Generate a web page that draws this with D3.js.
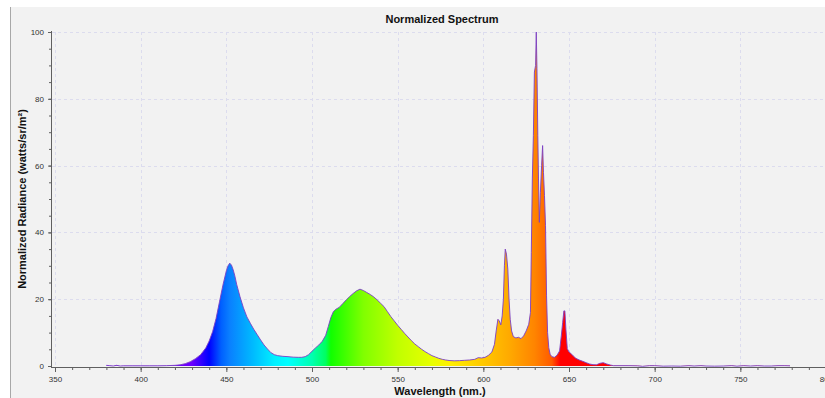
<!DOCTYPE html>
<html>
<head>
<meta charset="utf-8">
<script src="https://cdn.jsdelivr.net/npm/d3@7"></script>
<style>
  body { margin: 0; background: #fff; }
  svg { display: block; }
  text { font-family: "Liberation Sans", Arial, sans-serif; }
</style>
</head>
<body>
<svg width="825" height="398"></svg>
<script>
// wavelength samples (nm) and normalized radiance
var wavelengths = [
  380, 382, 384, 386, 388, 390, 395, 400, 405, 410, 415, 420, 423, 426, 429, 432, 435, 438,
  440, 442, 444, 446, 448, 450, 451, 452, 453, 454, 455, 456, 458, 460, 462, 464, 466, 468,
  470, 472, 474, 476, 478, 480, 483, 486, 489, 492, 494, 496, 498, 500, 502, 504, 506, 508,
  509.5, 511, 512.5, 514, 516, 518, 520, 522, 524, 526, 528, 530, 532, 534, 536, 538, 540,
  542, 544, 546, 548, 550, 552, 554, 556, 558, 560, 562, 564, 566, 568, 570, 572, 574, 576,
  578, 580, 583, 586, 589, 592, 595, 597, 599, 601, 603, 605, 606.5, 607.5, 608.5, 609.3,
  610.2, 611, 611.7, 612.3, 612.8, 613.5, 614.3, 615, 615.7, 616.5, 617.5, 619, 620.5, 622,
  623.5, 625, 626.5, 627.5, 628, 628.6, 629.2, 629.8, 630.5, 630.9, 631.3, 631.8, 632.2,
  632.7, 633.3, 634, 634.6, 635.1, 635.7, 636.3, 636.9, 637.5, 638.2, 639, 640, 641.5, 643,
  644.5, 645.5, 646.3, 647, 647.6, 648.2, 649, 650, 651, 652.5, 654, 656, 658, 660, 662, 664,
  666, 668, 670, 672, 674, 676, 678, 685, 690, 693, 697, 700, 705, 710, 715, 720, 723, 727,
  730, 735, 740, 745, 748, 752, 756, 760, 764, 768, 772, 776, 779
]
var radiance = [
  0.2, 0.1, 0.0, 0.2, 0.0, 0.05, 0.05, 0.05, 0.05, 0.05, 0.1, 0.2, 0.35, 0.7, 1.3, 2.2, 3.4, 5.4,
  7.5, 10.3, 14.2, 19.2, 24.2, 28.5, 30.0, 30.8, 30.2, 28.8, 26.9, 24.5, 20.7, 17.4, 14.7, 12.8, 11.0, 9.4,
  7.8, 6.3, 5.1, 4.0, 3.4, 3.1, 2.9, 2.8, 2.65, 2.6, 2.6, 2.8, 3.4, 4.4, 5.4, 6.3, 7.4, 9.2,
  11.8, 14.5, 16.3, 17.0, 17.6, 18.7, 19.8, 20.8, 21.7, 22.5, 23.0, 22.6, 22.0, 21.4, 20.7, 19.8, 18.8,
  17.8, 16.3, 14.8, 13.5, 12.2, 11.0, 9.8, 8.7, 7.6, 6.6, 5.8, 5.0, 4.3, 3.7, 3.1, 2.7, 2.3, 2.0,
  1.8, 1.65, 1.55, 1.6, 1.7, 1.8, 2.0, 2.5, 2.4, 2.6, 3.2, 4.2, 6.5, 10.5, 14.0, 13.5,
  12.3, 15, 20, 30, 35, 33.5, 29, 20, 14, 10.5, 8.8, 8.4, 8.6, 8.2,
  9.0, 10.5, 12.5, 16, 34, 56, 69, 88, 90, 100, 89, 69, 56,
  43, 52, 60, 66, 58, 51, 42, 21, 10, 5.5, 3.5, 2.8, 2.6, 3.2,
  4.5, 9, 13, 16.5, 16.5, 11, 5.2, 4.2, 3.8, 3.0, 2.3, 1.8, 1.4, 1.0, 0.6, 0.4,
  0.35, 0.8, 1.0, 0.6, 0.3, 0.1, 0.1, 0.1, 0.05, -0.1, 0.1, 0.1, -0.05, 0.0, -0.05, 0.1, 0.0, 0.1,
  0.0, -0.05, 0.0, 0.1, -0.05, 0.1, 0.0, 0.1, 0.0, 0.0, 0.1, 0.1, 0.05
]

var xMajor = [350, 400, 450, 500, 550, 600, 650, 700, 750, 800]
var yMajor = [0, 20, 40, 60, 80, 100]

// colour of the fill at each wavelength
var stopNm = [400, 430, 440, 447, 452, 465, 478, 486, 500, 508, 511, 530, 550, 570, 580, 598, 615, 630, 640, 645, 780]
var stopColor = ['#8000ff', '#6a00ff', '#0000ff', '#0060ff', '#0a80ff', '#00b8ff', '#00f0ff', '#00ffff',
  '#00ffb0', '#00ff60', '#10ff00', '#80ff00', '#c0ff00', '#e8ff00', '#fff000', '#ffcc00', '#ffaa00',
  '#ff8400', '#ff5a00', '#ff0000', '#ff0000']

var svg = d3.select('svg')
var W = 825
var H = 398

var x = d3.scaleLinear().domain([350, 800]).range([55, 826])
var y = d3.scaleLinear().domain([0, 100]).range([366, 32])

// panel
svg.append('rect').attr('width', W).attr('height', H).attr('fill', '#fff')
svg.append('rect').attr('x', 10).attr('y', 7).attr('width', W - 10).attr('height', H - 7)
  .attr('fill', '#f2f2f2')
svg.append('line').attr('x1', 10.5).attr('x2', 10.5).attr('y1', 7).attr('y2', H)
  .attr('stroke', '#a8a8a8')

// grid
svg.append('g').selectAll('line.v').data(xMajor).enter().append('line')
  .attr('x1', d => Math.round(x(d)) + 0.5).attr('x2', d => Math.round(x(d)) + 0.5)
  .attr('y1', y(100)).attr('y2', y(0))
  .attr('stroke', '#dcdcee').attr('stroke-dasharray', '3,3')
svg.append('g').selectAll('line.h').data(yMajor.filter(d => d > 0)).enter().append('line')
  .attr('x1', 52).attr('x2', W)
  .attr('y1', d => Math.round(y(d)) + 0.5).attr('y2', d => Math.round(y(d)) + 0.5)
  .attr('stroke', '#dcdcee').attr('stroke-dasharray', '3,3')

// gradient
var grad = svg.append('defs').append('linearGradient')
  .attr('id', 'spectrum')
  .attr('gradientUnits', 'userSpaceOnUse')
  .attr('x1', x(380)).attr('x2', x(780)).attr('y1', 0).attr('y2', 0)
grad.selectAll('stop').data(stopNm).enter().append('stop')
  .attr('offset', d => (d - 380) / 400)
  .attr('stop-color', (d, i) => stopColor[i])

var data = wavelengths.map((w, i) => ({w: w, v: radiance[i]}))

var area = d3.area()
  .x(d => x(d.w))
  .y0(y(0))
  .y1(d => y(Math.max(d.v, 0)))
var line = d3.line()
  .x(d => x(d.w))
  .y(d => y(d.v))

svg.append('path').datum(data).attr('d', area).attr('fill', 'url(#spectrum)')
svg.append('path').datum(data).attr('d', line)
  .attr('fill', 'none').attr('stroke', '#7b3fc4').attr('stroke-width', 1)
  .attr('stroke-opacity', 0.9).attr('stroke-linejoin', 'round')

// axes
var yAxis = svg.append('g').attr('transform', 'translate(52,0)')
yAxis.call(d3.axisLeft(y).tickValues(d3.range(0, 101, 5)).tickSize(3).tickFormat(''))
yAxis.call(g => g.select('.domain').remove())
var yLab = svg.append('g').attr('transform', 'translate(52,0)')
yLab.call(d3.axisLeft(y).tickValues(yMajor).tickSize(4).tickPadding(4).tickFormat(d3.format('d')))
yLab.select('.domain').remove()

var xAxis = svg.append('g').attr('transform', 'translate(0,367)')
xAxis.call(d3.axisBottom(x).tickValues(d3.range(350, 801, 10)).tickSize(3).tickFormat(''))
xAxis.select('.domain').remove()
var xLab = svg.append('g').attr('transform', 'translate(0,367)')
xLab.call(d3.axisBottom(x).tickValues(xMajor).tickSize(5).tickPadding(4).tickFormat(d3.format('d')))
xLab.select('.domain').remove()

svg.selectAll('.tick line').attr('stroke', '#606060')
svg.selectAll('.tick text').attr('fill', '#333').style('font-size', '8px')
  .style('font-family', '"Liberation Sans", Arial, sans-serif')

svg.append('line').attr('x1', 51.5).attr('x2', 51.5).attr('y1', 31).attr('y2', 367)
  .attr('stroke', '#606060')
svg.append('line').attr('x1', 51).attr('x2', W).attr('y1', 367.5).attr('y2', 367.5)
  .attr('stroke', '#606060')

// titles
svg.append('text').attr('x', 442).attr('y', 23).attr('text-anchor', 'middle')
  .style('font-size', '11px').style('font-weight', 'bold').attr('fill', '#111')
  .text('Normalized Spectrum')
svg.append('text').attr('x', 440).attr('y', 395).attr('text-anchor', 'middle')
  .style('font-size', '11px').style('font-weight', 'bold').attr('fill', '#111')
  .text('Wavelength (nm.)')
svg.append('text').attr('transform', 'translate(26,199) rotate(-90)').attr('text-anchor', 'middle')
  .style('font-size', '11px').style('font-weight', 'bold').attr('fill', '#111')
  .text('Normalized Radiance (watts/sr/m²)')
</script>
</body>
</html>
